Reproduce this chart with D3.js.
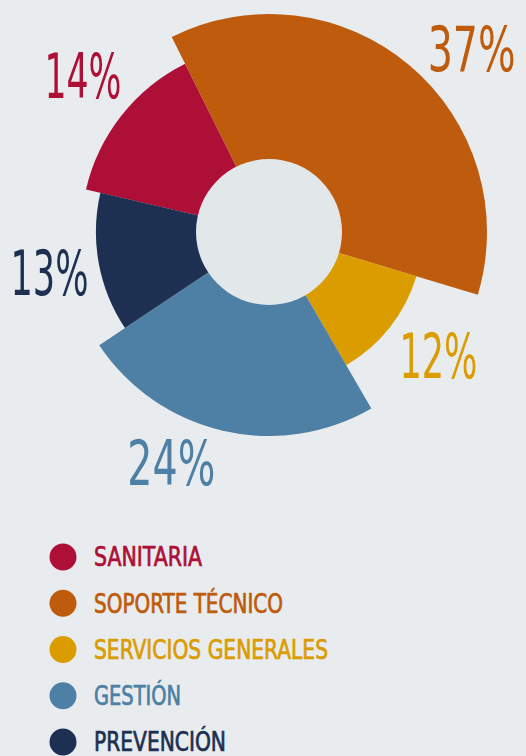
<!DOCTYPE html>
<html lang="es">
<head>
    <meta charset="UTF-8">
    <title>Distribución por área</title>
    <script src="https://d3js.org/d3.v7.min.js"></script>
    <style>
        html, body {
            margin: 0;
            padding: 0;
            background-color: #e8ecef;
        }
        svg {
            display: block;
        }
        .pct {
            font-family: "DejaVu Sans Condensed", "DejaVu Sans", sans-serif;
            font-stretch: condensed;
            font-size: 63px;
            stroke: #e8ecef;
            stroke-width: 3.4px;
            paint-order: stroke;
        }
        .legend text {
            font-family: "DejaVu Sans Condensed", "DejaVu Sans", sans-serif;
            font-stretch: condensed;
            font-size: 26px;
            stroke-width: 0.7px;
        }
    </style>
</head>
<body>
    <svg width="526" height="756"></svg>

    <script>
        // data
        const categories = ["SANITARIA", "SOPORTE TÉCNICO", "SERVICIOS GENERALES", "GESTIÓN", "PREVENCIÓN"];
        const shares = [14, 37, 12, 24, 13];
        // relative length of each wedge (1 = longest)
        const reach = [0.862, 1, 0.706, 0.936, 0.794];
        const colors = ["#ae0f37", "#bf5b0c", "#db9c00", "#4d80a4", "#1d3051"];

        const svg = d3.select("svg");
        const cx = 269, cy = 232;
        const innerR = 73;
        const g = svg.append("g").attr("transform", `translate(${cx},${cy})`);

        const rad = d3.scaleLinear().domain([0, 1]).range([0, 218]);

        const startDeg = -76.9;
        const pie = d3.pie().sort(null).value(d => d.share)
            .startAngle(startDeg * Math.PI / 180)
            .endAngle((startDeg + 360) * Math.PI / 180);

        const rows = categories.map((c, i) => ({ name: c, share: shares[i], reach: reach[i], color: colors[i] }));
        const arcs = pie(rows);

        const arc = d3.arc()
            .innerRadius(0)
            .outerRadius(d => rad(d.data.reach));

        g.selectAll("path.slice").data(arcs).enter()
            .append("path")
            .attr("class", "slice")
            .attr("d", arc)
            .attr("fill", d => d.data.color);

        g.append("circle")
            .attr("r", innerR)
            .attr("fill", "#e2e7ea");

        // percentage labels: outside each wedge, nudged a little by hand
        const labelTurn = [2, 7.6, -2.5, 10, 0];   // degrees
        const labelGap = [56, 56, 55, 45, 50];
        const labelWidth = [77, 88, 78, 88, 78];

        g.selectAll("text.pct").data(arcs).enter()
            .append("text")
            .attr("class", "pct")
            .attr("text-anchor", "middle")
            .attr("dominant-baseline", "central")
            .attr("fill", d => d.data.color)
            .attr("textLength", (d, i) => labelWidth[i])
            .attr("lengthAdjust", "spacingAndGlyphs")
            .attr("x", (d, i) => {
                const a = (d.startAngle + d.endAngle) / 2 + labelTurn[i] * Math.PI / 180;
                return Math.sin(a) * (rad(d.data.reach) + labelGap[i]);
            })
            .attr("y", (d, i) => {
                const a = (d.startAngle + d.endAngle) / 2 + labelTurn[i] * Math.PI / 180;
                return -Math.cos(a) * (rad(d.data.reach) + labelGap[i]) + 2;
            })
            .text(d => d.data.share + "%");

        // legend
        const legend = svg.append("g").attr("class", "legend");
        const rowY = d3.scalePoint().domain(categories).range([557, 742]);
        const nameWidth = [108, 189, 234, 87, 132];

        const item = legend.selectAll("g").data(rows).enter()
            .append("g")
            .attr("transform", d => `translate(63,${rowY(d.name)})`);

        item.append("circle")
            .attr("r", 13.5)
            .attr("fill", d => d.color);

        item.append("text")
            .attr("x", 31)
            .attr("dy", "0.36em")
            .attr("fill", d => d.color)
            .attr("stroke", d => d.color)
            .attr("textLength", (d, i) => nameWidth[i])
            .attr("lengthAdjust", "spacingAndGlyphs")
            .text(d => d.name);
    </script>
</body>
</html>
